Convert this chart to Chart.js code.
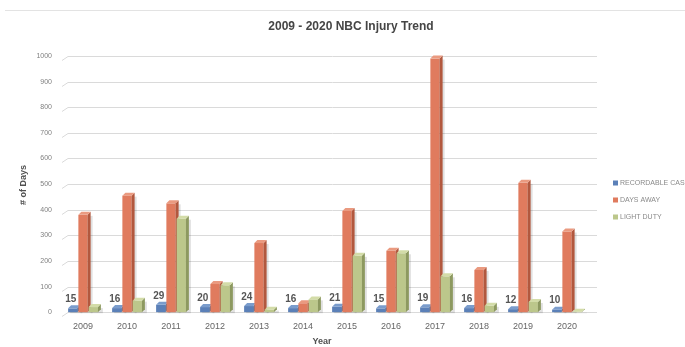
<!DOCTYPE html>
<html>
<head>
<meta charset="utf-8">
<script src="https://cdn.jsdelivr.net/npm/chart.js@4/dist/chart.umd.min.js"></script>
<style>
  html, body { margin: 0; padding: 0; background: #fff; }
  .frame { position: relative; width: 685px; height: 347px; overflow: hidden; }
  .topline { position: absolute; left: 5px; right: 0; top: 10px; border-top: 1px solid #e3e3e3; }
  canvas { position: absolute; left: 0; top: 0; }
</style>
</head>
<body>
<div class="frame">
  <div class="topline"></div>
  <canvas id="injuryChart" width="685" height="347"></canvas>
</div>
<script>
// Injury data per year
const years = ["2009", "2010", "2011", "2012", "2013", "2014", "2015", "2016", "2017", "2018", "2019", "2020"];
const recordableCases = [15, 16, 29, 20, 24, 16, 21, 15, 19, 16, 12, 10];
const daysAway = [380, 455, 425, 110, 270, 35, 395, 240, 990, 165, 505, 315];
const lightDuty = [20, 45, 365, 105, 10, 50, 220, 230, 140, 25, 40, 2];
const yTicks = [0, 100, 200, 300, 400, 500, 600, 700, 800, 900, 1000];

const seriesNames = ["RECORDABLE CASES", "DAYS AWAY", "LIGHT DUTY"];
const frontColors = ["#5b80b8", "#e07b5e", "#bcc78b"];
const sideColors = ["#3e5f8e", "#b2583e", "#8d9960"];
const topColors = ["#7a9ccc", "#ea9a80", "#d3dca8"];

const DEPTH = 3;
const FONT = '"Liberation Sans", sans-serif';

// Gridlines with a short slanted foot on the left, like a 3D back wall
const wallGrid = {
    id: 'wallGrid',
    beforeDatasetsDraw(chart) {
        const ctx = chart.ctx;
        const area = chart.chartArea;
        const y = chart.scales.y;
        ctx.save();
        ctx.strokeStyle = '#dadada';
        ctx.lineWidth = 1;
        y.ticks.forEach(t => {
            const py = Math.round(y.getPixelForValue(t.value)) + 0.5;
            ctx.beginPath();
            ctx.moveTo(area.left + 1, py + 4);
            ctx.lineTo(area.left + 7, py);
            ctx.lineTo(area.right + 8, py);
            ctx.stroke();
        });
        ctx.restore();
    }
};

// Draws each bar as a small 3D block: front, right side and top face
const bars3d = {
    id: 'bars3d',
    beforeDatasetsDraw(chart) {
        const ctx = chart.ctx;
        const metas = chart.data.datasets.map((d, i) => chart.getDatasetMeta(i));
        ctx.save();
        for (let c = 0; c < years.length; c++) {
            for (let s = 0; s < metas.length; s++) {
                const bar = metas[s].data[c];
                const w = bar.width;
                const l = bar.x - w / 2;
                const r = bar.x + w / 2;
                const top = bar.y;
                const base = bar.base;
                // shadow
                ctx.fillStyle = 'rgba(0,0,0,0.12)';
                ctx.fillRect(l + 2, top + 1, w + DEPTH, base - top);
                // front
                ctx.fillStyle = frontColors[s];
                ctx.fillRect(l, top, w, base - top);
                // side
                ctx.fillStyle = sideColors[s];
                ctx.beginPath();
                ctx.moveTo(r, top);
                ctx.lineTo(r + DEPTH, top - DEPTH);
                ctx.lineTo(r + DEPTH, base - DEPTH);
                ctx.lineTo(r, base);
                ctx.closePath();
                ctx.fill();
                // top
                ctx.fillStyle = topColors[s];
                ctx.beginPath();
                ctx.moveTo(l, top);
                ctx.lineTo(l + DEPTH, top - DEPTH);
                ctx.lineTo(r + DEPTH, top - DEPTH);
                ctx.lineTo(r, top);
                ctx.closePath();
                ctx.fill();
            }
        }
        // value labels for recordable cases
        ctx.fillStyle = '#555';
        ctx.font = 'bold 10px ' + FONT;
        ctx.textAlign = 'center';
        ctx.textBaseline = 'bottom';
        metas[0].data.forEach((bar, i) => {
            ctx.fillText(String(recordableCases[i]), bar.x - 2, bar.y - 4);
        });
        ctx.restore();
        return false;
    },
    afterDraw(chart) {
        const ctx = chart.ctx;
        ctx.save();
        ctx.textBaseline = 'middle';
        // chart title
        ctx.fillStyle = '#454545';
        ctx.font = 'bold 12px ' + FONT;
        ctx.textAlign = 'center';
        ctx.fillText('2009 - 2020 NBC Injury Trend', 351, 27);
        // axis titles
        ctx.fillStyle = '#505050';
        ctx.font = 'bold 9px ' + FONT;
        ctx.fillText('Year', 322, 342);
        ctx.save();
        ctx.translate(24, 185);
        ctx.rotate(-Math.PI / 2);
        ctx.fillText('# of Days', 0, 0);
        ctx.restore();
        // legend on the right, clipped by the canvas edge
        ctx.font = '7px ' + FONT;
        ctx.textAlign = 'left';
        const x = 613;
        const y0 = 183;
        chart.data.datasets.forEach((ds, i) => {
            const y = y0 + i * 17;
            ctx.fillStyle = frontColors[i];
            ctx.fillRect(x, y - 2.5, 5, 5);
            ctx.fillStyle = '#8a8a8a';
            ctx.fillText(ds.label, x + 7, y);
        });
        ctx.restore();
    }
};

const ctx = document.getElementById('injuryChart').getContext('2d');
new Chart(ctx, {
    type: 'bar',
    data: {
        labels: years,
        datasets: [
            { label: seriesNames[0], data: recordableCases, backgroundColor: frontColors[0] },
            { label: seriesNames[1], data: daysAway, backgroundColor: frontColors[1] },
            { label: seriesNames[2], data: lightDuty, backgroundColor: frontColors[2] }
        ]
    },
    options: {
        responsive: false,
        animation: false,
        layout: { padding: { left: 0, right: 96, top: 56, bottom: 6 } },
        categoryPercentage: 0.7,
        barPercentage: 0.9,
        plugins: {
            legend: { display: false },
            tooltip: { enabled: false },
            title: { display: false }
        },
        scales: {
            x: {
                grid: { display: false, drawTicks: false },
                border: { display: false },
                ticks: {
                    color: '#666',
                    font: { family: FONT, size: 9 },
                    padding: 9,
                    maxRotation: 0
                }
            },
            y: {
                min: 0,
                max: 1000,
                afterBuildTicks(scale) {
                    scale.ticks = yTicks.map(v => ({ value: v }));
                },
                afterFit(scale) {
                    scale.width = 61;
                },
                grid: { display: false, drawTicks: false },
                border: { display: false },
                ticks: {
                    color: '#808080',
                    font: { family: FONT, size: 7 },
                    padding: 9,
                    callback: v => String(v)
                }
            }
        }
    },
    plugins: [wallGrid, bars3d]
});
</script>
</body>
</html>
